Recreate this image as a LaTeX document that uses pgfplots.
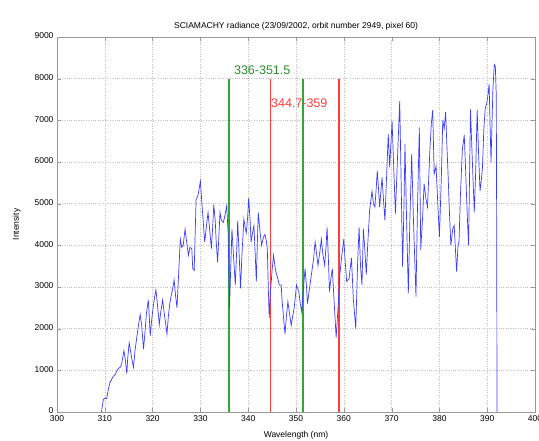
\documentclass[border=0pt]{standalone}
\usepackage{pgfplots}
\pgfplotsset{compat=1.18}
\usepackage{fontspec}
\setmainfont{Liberation Sans}

\definecolor{specblue}{RGB}{60,60,255}
\definecolor{wingreen}{RGB}{50,168,50}
\definecolor{winred}{RGB}{255,60,60}

\begin{document}
\begin{tikzpicture}
\begin{axis}[
  at={(0pt,0pt)}, anchor=south west,
  scale only axis,
  width=478pt, height=375pt,
  xmin=300, xmax=400, ymin=0, ymax=9000,
  xtick={300,310,...,400},
  ytick={0,1000,...,9000},
  tick align=inside,
  major tick length=4pt,
  tick style={gray!80},
  axis line style={gray!80, line width=0.8pt},
  grid=major,
  major grid style={gray!50, dotted, line width=0.5pt},
  /pgf/number format/assume math mode=true,
  /pgf/number format/.cd, 1000 sep={}, /pgfplots/.cd,
  ticklabel style={font=\fontsize{8.5}{10}\selectfont},
  yticklabel style={yshift=1pt},
  title={SCIAMACHY radiance (23/09/2002, orbit number 2949, pixel 60)},
  title style={font=\fontsize{8.5}{10}\selectfont, yshift=-3pt},
  xlabel={Wavelength (nm)},
  ylabel={Intensity},
  xlabel style={font=\fontsize{8.5}{10}\selectfont, yshift=-3pt},
  ylabel style={font=\fontsize{8.5}{10}\selectfont, yshift=7pt},
  clip=false,
]
% fitting window 336-351.5
\addplot[draw=wingreen, mark=none, line width=1.4pt] coordinates {(336,0) (336,8000)};
\addplot[draw=wingreen, mark=none, line width=1.4pt] coordinates {(351.5,0) (351.5,8000)};
% fitting window 344.7-359
\addplot[draw=winred, mark=none, line width=1.4pt] coordinates {(344.7,0) (344.7,8000)};
\addplot[draw=winred, mark=none, line width=1.4pt] coordinates {(359,0) (359,8000)};
% measured spectrum
\addplot[draw=specblue, mark=none, line width=0.7pt] table {
309.3 0
309.5 150
309.7 300
310.0 330
310.4 320
310.7 520
311.05 700
311.4 780
311.8 860
312.2 900
312.5 990
312.9 1050
313.3 1080
313.6 1200
314.0 1470
314.3 1250
314.6 920
314.8 1300
315.1 1660
315.4 1450
315.7 1250
316.0 1070
316.3 1450
316.7 1800
317.0 2050
317.4 2340
317.7 2100
318.1 1510
318.4 1900
318.7 2350
319.1 2690
319.3 2300
319.5 1830
319.8 2200
320.1 2500
320.4 2750
320.7 2930
321.0 2600
321.4 2100
321.7 2400
322.1 2690
322.4 2400
322.7 2150
323.0 1870
323.3 2300
323.6 2610
323.9 2800
324.2 2950
324.5 3170
324.8 2800
325.1 2500
325.4 3200
325.8 4150
326.1 3950
326.4 4000
326.6 4200
326.8 4390
327.1 4100
327.5 3760
327.8 3950
328.2 3920
328.4 3440
328.7 3400
329.1 5100
329.5 5200
330.0 5540
330.2 5200
330.4 4870
330.7 4400
330.9 4080
331.2 4400
331.6 4790
332.0 4300
332.3 3920
332.6 4500
332.8 4980
333.1 4600
333.3 4100
333.6 3600
333.9 4300
334.1 4790
334.4 4600
334.8 4550
335.1 4700
335.5 4950
335.8 4300
336.1 2500
336.3 3300
336.6 4390
336.9 3800
337.3 3050
337.6 3900
337.8 4590
338.1 3800
338.4 2970
338.7 3800
339.1 4630
339.4 4400
339.6 4300
339.9 4700
340.1 5140
340.4 4600
340.6 4080
340.9 4300
341.2 4470
341.5 3700
341.7 3130
341.9 4000
342.1 4790
342.5 4300
342.8 4000
343.2 4200
343.5 4260
343.8 4100
344.0 3920
344.2 3000
344.4 2260
344.6 2800
345.0 3400
345.3 3760
345.6 3500
345.8 3360
346.2 3200
346.5 3050
346.9 3050
347.1 2660
347.4 2260
347.7 1870
348.0 2300
348.3 2650
348.6 2400
349.0 2080
349.3 2300
349.6 2480
349.9 2800
350.1 3050
350.4 2950
350.6 2880
350.9 2600
351.2 2400
351.5 2900
351.9 3440
352.2 3000
352.4 2600
352.8 2950
353.3 3360
353.7 3700
354.0 4080
354.3 3800
354.6 3520
355.0 3850
355.3 4150
355.6 3800
356.0 3520
356.3 4000
356.5 4430
356.8 3600
357.0 2890
357.3 3200
357.6 3440
358.0 2600
358.4 1790
358.8 2500
359.1 3200
359.5 3680
360.0 4150
360.3 3600
360.6 3130
361.1 3200
361.6 3700
362.0 2700
362.5 2000
362.9 3600
363.2 4430
363.5 3500
363.8 3050
364.1 4390
364.4 3900
364.7 3300
365.0 4000
365.4 4840
365.9 5300
366.2 5000
366.5 4920
366.8 5400
367.0 5790
367.3 5300
367.5 4920
368.0 5630
368.3 5100
368.6 4600
368.9 5500
369.3 6670
369.6 5870
370.1 6990
370.4 6000
370.8 4760
371.2 6000
371.7 7460
372.0 5500
372.3 3490
372.6 5000
372.8 6430
373.1 4800
373.5 2850
373.8 4500
374.2 6190
374.6 4500
375.1 2770
375.4 4800
375.8 6830
376.1 3890
376.5 4700
376.8 5480
377.2 5100
377.5 4920
377.8 5700
378.0 6270
378.3 6900
378.6 7250
378.9 5710
379.3 5900
379.6 5160
380.0 4200
380.4 5600
380.7 7000
381.0 6800
381.3 7200
381.6 6300
381.8 5750
382.1 4800
382.4 4000
382.8 4400
383.1 4470
383.4 3800
383.6 3370
383.9 4000
384.1 4080
384.4 5200
384.8 6290
385.2 6650
385.5 5760
385.8 4800
386.1 4000
386.3 5600
386.5 7260
386.9 6000
387.3 4790
387.6 5800
387.9 7250
388.2 6200
388.5 5300
388.8 5600
389.0 5850
389.3 6800
389.6 7300
389.9 7400
390.2 7650
390.4 7870
390.6 6900
390.8 6000
391.0 6900
391.2 7780
391.5 8340
391.7 8300
391.9 7600
392.0 3840
392.05 0
};
\node[anchor=south west, inner sep=0pt, text=wingreen!85!black, font=\fontsize{12.5}{14}\selectfont]
  at (axis cs:337.0,8100) {336-351.5};
\node[anchor=south west, inner sep=0pt, text=winred, font=\fontsize{12.5}{14}\selectfont]
  at (axis cs:344.75,7300) {344.7-359};
\end{axis}
\pgfresetboundingbox
\path (-57pt,-28pt) rectangle (482pt,412pt);
\end{tikzpicture}
\end{document}
